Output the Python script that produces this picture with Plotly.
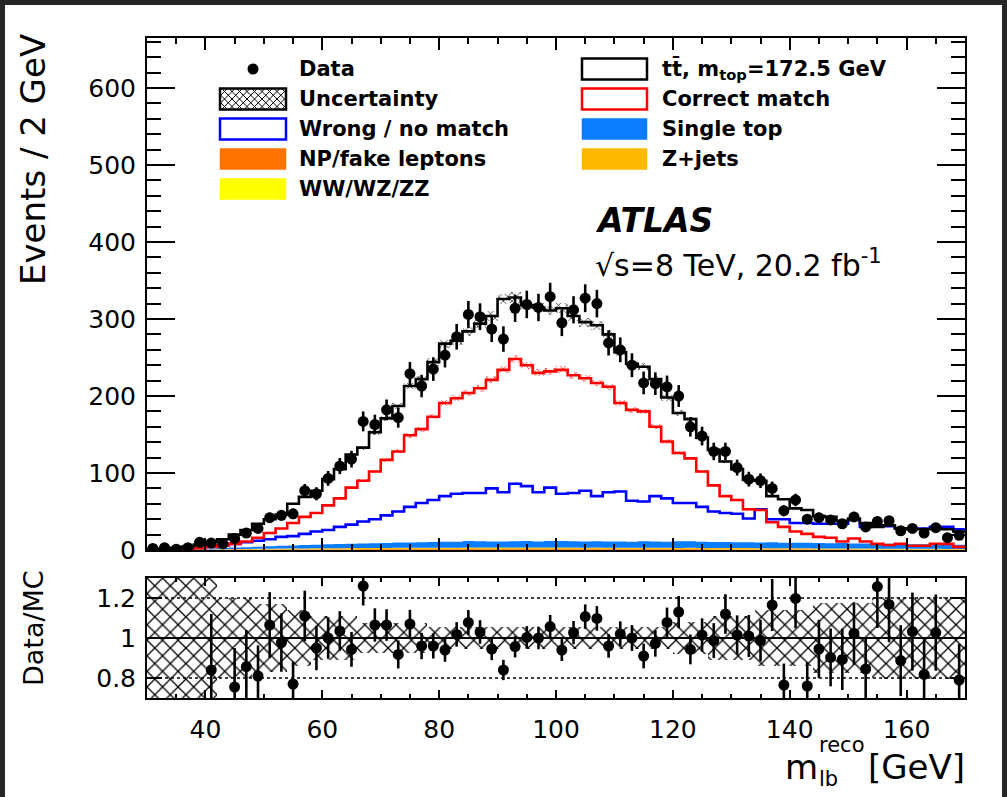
import numpy as np
import plotly.graph_objects as go

# ---------------- data ----------------
edges = list(range(30, 172, 2))          # 2 GeV bins, 30..170
centers = [e + 1 for e in edges[:-1]]

data = [2, 3, 1, 3, 10, 9, 8, 15, 22, 28,
        42, 45, 47, 77, 73, 93, 109, 118, 167, 163,
        182, 172, 229, 213, 235, 253, 277, 306, 303, 287,
        274, 314, 319, 315, 329, 295, 312, 327, 320, 269,
        260, 240, 217, 216, 212, 200, 160, 148, 128, 128,
        107, 92, 90, 80, 51, 65, 40, 42, 39, 34,
        43, 30, 37, 38, 25, 28, 22, 29, 16, 19]

mc_total = [1, 2, 3, 4.5, 7, 10.5, 14, 20, 26, 34,
            40, 46, 60, 69, 77, 92, 105, 124, 133, 153,
            171, 187, 213, 222, 244, 268, 272, 284, 294, 304,
            326, 328, 318, 315, 311, 314, 304, 296, 292, 280,
            257, 242, 238, 222, 198, 178, 170, 146, 130, 115,
            105, 91, 90, 70, 66, 54, 52, 44, 43, 38,
            41, 35, 30, 32, 28, 27, 27, 28, 27, 24]

correct_match = [0.3, 0.5, 1, 1.5, 2.5, 4, 6, 8, 11, 16,
                 22, 28, 35, 43, 48, 58, 67, 81, 90, 102,
                 117, 128, 149, 157, 173, 191, 197, 204, 210, 221,
                 234, 248, 240, 230, 232, 234, 227, 223, 217, 212,
                 191, 182, 180, 160, 141, 126, 119, 102, 84, 70,
                 65, 53, 52, 36, 30, 24, 21, 17, 16, 11,
                 15, 11, 8, 6.5, 8, 5.6, 5.6, 8, 8, 4]

wrong_match = [0.3, 0.6, 1.2, 2, 3, 4.5, 6, 8, 10, 12,
               14, 17, 18, 21, 24, 26, 30, 33, 37, 40,
               45, 50, 56, 61, 65, 70, 73, 74, 74, 80,
               75, 86, 83, 75, 81, 73, 74, 77, 70, 75,
               76, 64, 63, 70, 67, 61, 61, 56, 50, 48,
               47, 41, 53, 40, 40, 35, 35, 34, 34, 34,
               39, 30, 31, 31, 28, 28, 28, 30, 30, 27]

single_top = [0.2, 0.3, 0.5, 0.7, 1.0, 1.3, 1.7, 2.0, 2.4, 2.8,
              3.2, 3.6, 4.0, 4.3, 4.6, 5.0, 5.3, 5.6, 5.9, 6.2,
              6.5, 6.8, 7.0, 7.2, 7.4, 7.6, 7.8, 8.4, 8.2, 8.0,
              7.8, 8.0, 8.3, 8.0, 8.4, 8.6, 8.2, 8.0, 8.3, 8.1,
              8.0, 7.8, 8.2, 8.0, 7.7, 8.5, 8.4, 8.0, 7.6, 7.8,
              7.5, 7.4, 7.3, 7.6, 7.2, 7.0, 7.2, 7.0, 6.8, 6.9,
              6.6, 6.5, 6.4, 6.3, 6.2, 6.0, 5.9, 5.8, 5.6, 5.5]

z_jets = [0.05, 0.1, 0.15, 0.2, 0.3, 0.4, 0.5, 0.6, 0.7, 0.8,
          0.9, 1.0, 1.1, 1.1, 1.2, 1.3, 1.3, 1.4, 1.4, 1.5,
          1.5, 1.6, 1.6, 1.6, 1.7, 1.7, 1.7, 1.8, 1.8, 1.8,
          1.8, 1.9, 1.9, 1.8, 1.9, 1.9, 1.8, 1.8, 1.9, 1.8,
          1.8, 1.7, 1.8, 1.7, 1.7, 1.6, 1.7, 1.6, 1.6, 1.5,
          1.5, 1.5, 1.4, 1.4, 1.4, 1.3, 1.3, 1.2, 1.2, 1.2,
          1.1, 1.1, 1.0, 1.0, 1.0, 0.9, 0.9, 0.9, 0.8, 0.8]

np_fake = [0.02, 0.05, 0.1, 0.15, 0.2, 0.3, 0.35, 0.4, 0.45, 0.5,
           0.55, 0.6, 0.65, 0.7, 0.7, 0.75, 0.8, 0.8, 0.85, 0.85,
           0.9, 0.9, 0.9, 0.95, 0.95, 0.95, 1.0, 1.0, 1.0, 1.0,
           1.0, 1.0, 1.0, 1.0, 1.0, 1.0, 1.0, 0.95, 0.95, 0.95,
           0.95, 0.9, 0.9, 0.9, 0.9, 0.85, 0.85, 0.85, 0.8, 0.8,
           0.8, 0.75, 0.75, 0.7, 0.7, 0.7, 0.65, 0.65, 0.6, 0.6,
           0.6, 0.55, 0.55, 0.5, 0.5, 0.5, 0.45, 0.45, 0.4, 0.4]

diboson = [0.01, 0.02, 0.04, 0.06, 0.08, 0.1, 0.12, 0.14, 0.16, 0.18,
           0.2, 0.22, 0.24, 0.25, 0.26, 0.27, 0.28, 0.29, 0.3, 0.3,
           0.3, 0.31, 0.31, 0.32, 0.32, 0.32, 0.33, 0.33, 0.33, 0.33,
           0.33, 0.33, 0.33, 0.33, 0.33, 0.33, 0.33, 0.32, 0.32, 0.32,
           0.32, 0.31, 0.31, 0.31, 0.3, 0.3, 0.3, 0.3, 0.29, 0.29,
           0.28, 0.28, 0.27, 0.27, 0.26, 0.26, 0.25, 0.25, 0.24, 0.24,
           0.23, 0.23, 0.22, 0.22, 0.21, 0.21, 0.2, 0.2, 0.19, 0.19]

# Data/MC ratio as drawn (None = off scale)
ratio = [None, None, None, None, None, 0.84, None, 0.755, 0.857, 0.81,
         1.065, 0.977, 0.77, 1.11, 0.95, 1.0, 1.035, 0.943, 1.26, 1.065,
         1.065, 0.918, 1.07, 0.96, 0.96, 0.94, 1.018, 1.078, 1.03, 0.945,
         0.84, 0.957, 1.003, 1.0, 1.057, 0.94, 1.027, 1.107, 1.098, 0.96,
         1.02, 1.0, 0.91, 0.973, 1.078, 1.13, 0.943, 1.015, 0.987, 1.12,
         1.015, 1.01, 0.987, 1.165, 0.765, 1.198, 0.76, 0.945, 0.903, 0.893,
         1.023, 0.845, 1.257, 1.168, 0.887, 1.032, 0.818, 1.027, None, 0.79]

# relative MC uncertainty shown in the ratio panel
ratio_unc = [0.4] * 6 + [0.2] * 3 + [0.17] * 3 + [0.14] * 2 + [0.11] * 4 + \
            [0.075] * 6 + [0.055] * 21 + [0.08] * 3 + [0.11] * 4 + [0.14] * 5 + \
            [0.175] * 5 + [0.205] * 8

y_ticks = [0, 100, 200, 300, 400, 500, 600]
x_ticks = [40, 60, 80, 100, 120, 140, 160]
r_ticks = [0.8, 1.0, 1.2]
r_ticktext = ["0.8", "1", "1.2"]

# ---------------- geometry / style ----------------
W, H = 1007, 797
L, R, T, B = 147, 965, 38, 698
MAIN_BOTTOM_PX, RATIO_TOP_PX = 550, 578
FONT = "DejaVu Sans"
MC_STAT = 0.02


def px_x(p):
    return (p - L) / (R - L)


def px_y(p):
    return (B - p) / (B - T)


def step(vals):
    return edges, list(vals) + [vals[-1]]


fig = go.Figure()

# stacked backgrounds (bottom -> top)
stack_order = [(diboson, "#ffff00"), (np_fake, "#ff7400"),
               (z_jets, "#ffb900"), (single_top, "#0a7dff")]
cum = np.zeros(len(centers))
for i, (vals, col) in enumerate(stack_order):
    cum = cum + np.array(vals)
    xs, ys = step(list(cum))
    fig.add_trace(go.Scatter(x=xs, y=ys, mode="lines", line=dict(shape="hv", width=0, color=col),
                             fill="tozeroy" if i == 0 else "tonexty", fillcolor=col,
                             xaxis="x", yaxis="y", hoverinfo="skip"))

# thin hatched MC-stat bands on the lines
for vals, col in [(wrong_match, "#0000ff"), (correct_match, "#ff0000"), (mc_total, "#000000")]:
    v = np.array(vals, dtype=float)
    fig.add_trace(go.Bar(x=centers, y=2 * MC_STAT * v, base=v * (1 - MC_STAT), width=2,
                         marker=dict(color=col, line=dict(width=0),
                                     pattern=dict(shape="x", fgcolor=col, bgcolor="rgba(0,0,0,0)",
                                                  size=6, solidity=0.2, fillmode="replace")),
                         xaxis="x", yaxis="y", hoverinfo="skip"))

# component lines
for vals, col in [(wrong_match, "#0000ff"), (correct_match, "#ff0000"), (mc_total, "#000000")]:
    xs, ys = step(vals)
    fig.add_trace(go.Scatter(x=xs, y=ys, mode="lines", line=dict(shape="hv", width=2.6, color=col),
                             xaxis="x", yaxis="y", hoverinfo="skip"))

# data
d = np.array(data, dtype=float)
fig.add_trace(go.Scatter(x=centers, y=data, mode="markers",
                         marker=dict(size=11, color="black"),
                         error_y=dict(type="data", array=np.sqrt(d), thickness=2.6, width=0, color="black"),
                         xaxis="x", yaxis="y", hoverinfo="skip"))

# ratio panel: uncertainty band
ru = np.array(ratio_unc)
fig.add_trace(go.Bar(x=centers, y=2 * ru, base=1 - ru, width=2,
                     marker=dict(color="black", line=dict(width=0),
                                 pattern=dict(shape="x", fgcolor="black", bgcolor="rgba(0,0,0,0)",
                                              size=11, solidity=0.22, fillmode="replace")),
                     xaxis="x2", yaxis="y2", hoverinfo="skip"))

# ratio points
r_arr = np.array([np.nan if r is None else r for r in ratio])
r_err = r_arr / np.sqrt(d)
fig.add_trace(go.Scatter(x=centers, y=[None if np.isnan(r) else r for r in r_arr], mode="markers",
                         marker=dict(size=11, color="black"),
                         error_y=dict(type="data", array=[0 if np.isnan(e) else e for e in r_err],
                                      thickness=2.6, width=0, color="black"),
                         xaxis="x2", yaxis="y2", hoverinfo="skip"))

shapes = []
# white canvas inside dark border
shapes.append(dict(type="rect", xref="paper", yref="paper", layer="below",
                   x0=px_x(5), x1=px_x(1002), y0=px_y(797), y1=px_y(5),
                   fillcolor="white", line=dict(width=0)))
# ratio reference lines
for yv, dash, w in [(1.2, "dot", 1.5), (0.8, "dot", 1.5), (1.0, "solid", 2)]:
    shapes.append(dict(type="line", xref="x2", yref="y2", x0=30, x1=170, y0=yv, y1=yv,
                       line=dict(color="black", width=w, dash=dash), layer="above"))

# ---------------- legend (drawn) ----------------
rows = [69, 99, 129, 159, 189]
lcol_box = (220, 286)
rcol_box = (582, 647)
lcol_text, rcol_text = 297, 660
BOX_H = 21


def box(xb, yc, fill, border, bw=2.5):
    shapes.append(dict(type="rect", xref="paper", yref="paper",
                       x0=px_x(xb[0]), x1=px_x(xb[1]),
                       y0=px_y(yc + BOX_H / 2), y1=px_y(yc - BOX_H / 2),
                       fillcolor=fill, line=dict(color=border, width=bw)))


def hatch(xb, yc, stepp=7.5):
    x0, x1 = xb
    y0, y1 = yc - BOX_H / 2, yc + BOX_H / 2
    w, h = x1 - x0, y1 - y0
    parts = []
    for dd in np.arange(-h, w + stepp, stepp):
        t0, t1 = max(0, -dd), min(h, w - dd)
        if t1 > t0:
            parts.append(f"M{px_x(x0 + dd + t0)},{px_y(y0 + t0)} L{px_x(x0 + dd + t1)},{px_y(y0 + t1)}")
    for dd in np.arange(0, w + h + stepp, stepp):
        t0, t1 = max(0, dd - w), min(h, dd)
        if t1 > t0:
            parts.append(f"M{px_x(x0 + dd - t0)},{px_y(y0 + t0)} L{px_x(x0 + dd - t1)},{px_y(y0 + t1)}")
    shapes.append(dict(type="path", xref="paper", yref="paper", path=" ".join(parts),
                       line=dict(color="black", width=1)))


# Data marker
shapes.append(dict(type="circle", xref="paper", yref="paper",
                   x0=px_x(253 - 5.5), x1=px_x(253 + 5.5), y0=px_y(rows[0] + 5.5), y1=px_y(rows[0] - 5.5),
                   fillcolor="black", line=dict(color="black", width=0)))
box(lcol_box, rows[1], "white", "black", 2.5)
hatch(lcol_box, rows[1])
box(lcol_box, rows[2], "white", "#0000ff")
box(lcol_box, rows[3], "#ff7400", "#ff7400", 0.5)
box(lcol_box, rows[4], "#ffff00", "#ffff00", 0.5)
box(rcol_box, rows[0], "white", "black")
box(rcol_box, rows[1], "white", "#ff0000")
box(rcol_box, rows[2], "#0a7dff", "#0a7dff", 0.5)
box(rcol_box, rows[3], "#ffb900", "#ffb900", 0.5)

annotations = []


def text(x, y, s, size, xanchor="left", yanchor="middle", angle=0, bold=False):
    annotations.append(dict(x=px_x(x), y=px_y(y), xref="paper", yref="paper", text=s, showarrow=False,
                            xanchor=xanchor, yanchor=yanchor, textangle=angle,
                            font=dict(family=FONT, size=size, color="black",
                                      weight="bold" if bold else "normal")))


left_labels = ["Data", "Uncertainty", "Wrong / no match", "NP/fake leptons", "WW/WZ/ZZ"]
right_labels = ["tt\u0304, m<sub>top</sub>=172.5 GeV", "Correct match", "Single top", "Z+jets"]
for yv, s in zip(rows, left_labels):
    text(lcol_text, yv, s, 21, bold=True)
for yv, s in zip(rows, right_labels):
    text(rcol_text, yv, s, 21, bold=True)

text(593, 220, "<b><i>ATLAS</i></b>", 33)
text(593, 263, "\u221as=8 TeV, 20.2 fb<sup>-1</sup>", 30)

# axis titles
text(33, 160, "Events / 2 GeV", 34, xanchor="center", angle=-90)
text(33, 628, "Data/MC", 27, xanchor="center", angle=-90)
text(967, 767, "[GeV]", 34, xanchor="right")
text(783, 767, "m", 34)
text(817, 745, "reco", 21)
text(817, 779, "lb", 21)

axis_common = dict(showline=True, linewidth=2, linecolor="black", mirror="allticks",
                   ticks="inside", showgrid=False, zeroline=False,
                   tickfont=dict(family=FONT, size=25, color="black"), tickcolor="black", tickwidth=1.5)

fig.update_layout(
    width=W, height=H, autosize=False,
    margin=dict(l=L, r=W - R, t=T, b=H - B, pad=0),
    paper_bgcolor="#262626", plot_bgcolor="white",
    showlegend=False, barmode="overlay", bargap=0,
    shapes=shapes, annotations=annotations,
    xaxis=dict(axis_common, domain=[0, 1], anchor="y", range=[30, 170], tickvals=x_ticks,
               showticklabels=False, ticklen=12,
               minor=dict(dtick=5, tick0=30, ticks="inside", ticklen=6, tickcolor="black", tickwidth=1.5)),
    yaxis=dict(axis_common, domain=[px_y(MAIN_BOTTOM_PX), 1], anchor="x", range=[0, 665],
               tickvals=y_ticks, ticklen=28, ticklabelstandoff=4,
               minor=dict(dtick=20, tick0=0, ticks="inside", ticklen=14, tickcolor="black", tickwidth=1.5)),
    xaxis2=dict(axis_common, domain=[0, 1], anchor="y2", range=[30, 170], tickvals=x_ticks,
                matches="x", ticklen=8, ticklabelstandoff=8,
                minor=dict(dtick=5, tick0=30, ticks="inside", ticklen=4, tickcolor="black", tickwidth=1.5)),
    yaxis2=dict(axis_common, domain=[0, px_y(RATIO_TOP_PX)], anchor="x2", range=[0.7, 1.3],
                tickvals=r_ticks, ticktext=r_ticktext, ticklen=15, ticklabelstandoff=4),
)

fig.write_html("out.html")
